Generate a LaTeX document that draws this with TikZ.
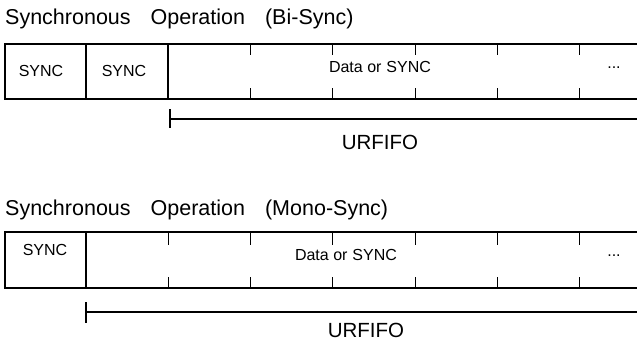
\documentclass[tikz,border=0pt]{standalone}
\usepackage{fontspec}
\setmainfont{Liberation Sans}
\usetikzlibrary{positioning, calc}

\begin{document}
\begin{tikzpicture}[
    x=1pt, y=-1pt,
    frame/.style={draw=black, line width=1.2pt},
    slotmark/.style={draw=black, line width=0.9pt},
    title/.style={anchor=base west, inner sep=0pt, font=\fontsize{21.5}{26}\selectfont},
    field/.style={inner sep=0pt, font=\fontsize{16}{19}\selectfont},
    fifolabel/.style={anchor=north, inner sep=0pt, font=\fontsize{20.5}{25}\selectfont}
]
\useasboundingbox (0,0) rectangle (637,341);

% --- Bi-Sync: title and receive frame ---
\node[title] (bititle) at (5,24) {Synchronous\hspace{20pt}Operation\hspace{20pt}(Bi-Sync)};
\draw[frame] (637,44) -| (5,99) -- (637,99);
\foreach \x in {86,168} {
    \draw[frame] (\x,44) -- (\x,99);
}
\foreach \x in {250,332,415,497,579} {
    \draw[slotmark] (\x,44) -- (\x,55);
    \draw[slotmark] (\x,88) -- (\x,99);
}
\node[field] (bisynca) at (41,71) {SYNC};
\node[field] (bisyncb) at (124,71) {SYNC};
\node[field] (bidata) at (380,67) {Data or\hspace{5pt}SYNC};
\node[field] (bidots) at (614,68) {...};

% --- Bi-Sync: URFIFO span ---
\coordinate (bififoL) at (170,119);
\coordinate (bififoR) at (637,119);
\draw[frame] (bififoL) -- (bififoR);
\draw[frame] ($(bififoL)+(0,-10)$) -- ($(bififoL)+(0,9)$);
\node[fifolabel] (bififo) at (380,135) {URFIFO};

% --- Mono-Sync: title and receive frame ---
\node[title] (monotitle) at (5,215) {Synchronous\hspace{20pt}Operation\hspace{20pt}(Mono-Sync)};
\draw[frame] (637,232) -| (5,288) -- (637,288);
\draw[frame] (86,232) -- (86,288);
\foreach \x in {168,250,332,415,497,579} {
    \draw[slotmark] (\x,232) -- (\x,245);
    \draw[slotmark] (\x,277) -- (\x,288);
}
\node[field] (monosync) at (45,250) {SYNC};
\node[field] (monodata) at (346,255) {Data or\hspace{5pt}SYNC};
\node[field] (monodots) at (614,256) {...};

% --- Mono-Sync: URFIFO span ---
\coordinate (monofifoL) at (86,312);
\coordinate (monofifoR) at (637,312);
\draw[frame] (monofifoL) -- (monofifoR);
\draw[frame] ($(monofifoL)+(0,-10)$) -- ($(monofifoL)+(0,11)$);
\node[fifolabel] (monofifo) at (366,323) {URFIFO};

\end{tikzpicture}
\end{document}
